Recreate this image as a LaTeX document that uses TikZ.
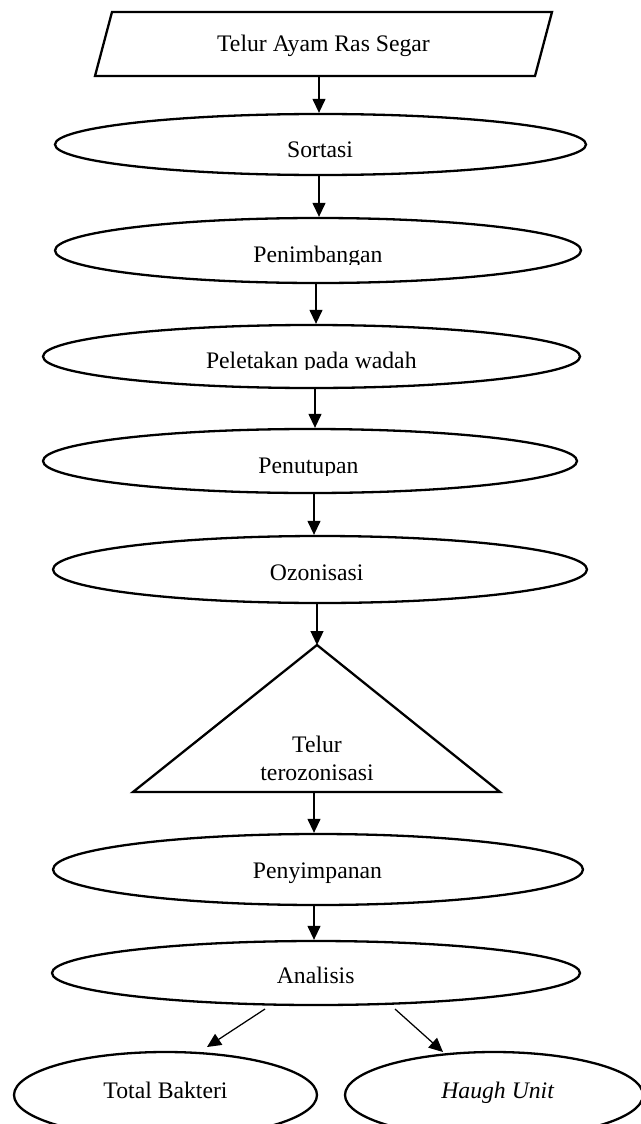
\documentclass[tikz,border=0pt]{standalone}
\usepackage{fontspec}
\setmainfont{Liberation Serif}
\usetikzlibrary{arrows.meta,shapes.geometric,calc}
\begin{document}
\begin{tikzpicture}[x=1pt,y=-1pt,
  shp/.style={draw=black, line width=2.3pt, line join=miter},
  ell/.style={draw=black, line width=2.3pt, ellipse, inner sep=0pt},
  lbl/.style={anchor=base, inner sep=0pt, font=\fontsize{23.7}{28}\selectfont},
  arr/.style={line width=1.25pt, -{Triangle[length=14pt,width=13pt]}},
]
\useasboundingbox (0,0) rectangle (640,1124);

% input parallelogram
\draw[shp] (112,12) -- (552,12) -- (535,76) -- (95,76) -- cycle;
\node[lbl] (inpT) at (323.5,52) {Telur Ayam Ras Segar};
\coordinate (inB) at (319,76);

% process ellipses
\node[ell, minimum width=531pt, minimum height=61pt] (sort) at (320.5,144.5) {};
\node[lbl] (sortT) at (320,157) {Sortasi};

\node[ell, minimum width=526pt, minimum height=65pt] (pen) at (318,250.5) {};
\begin{scope}
  \clip (0,230) rectangle (640,264);
  \node[lbl] (penT) at (318,262) {Penimbangan};
\end{scope}

\node[ell, minimum width=537pt, minimum height=63pt] (pel) at (311.5,356.5) {};
\begin{scope}
  \clip (0,335) rectangle (640,369.5);
  \node[lbl] (pelT) at (311.3,368) {Peletakan pada wadah};
\end{scope}

\node[ell, minimum width=534pt, minimum height=64pt] (put) at (310,461) {};
\begin{scope}
  \clip (0,440) rectangle (640,475);
  \node[lbl] (putT) at (308.5,473) {Penutupan};
\end{scope}

\node[ell, minimum width=534pt, minimum height=67pt] (ozo) at (320,569.5) {};
\node[lbl] (ozoT) at (316.7,580) {Ozonisasi};

% triangle
\coordinate (triA) at (317,645);
\draw[shp] (triA) -- (500,792) -- (133,792) -- cycle;
\node[lbl] (triT1) at (317,752) {Telur};
\node[lbl] (triT2) at (317,780) {terozonisasi};
\coordinate (triB) at (314,792);

\node[ell, minimum width=530pt, minimum height=71pt] (peny) at (318,869.5) {};
\node[lbl] (penyT) at (317.5,878) {Penyimpanan};

\node[ell, minimum width=528pt, minimum height=64pt] (ana) at (316,973) {};
\node[lbl] (anaT) at (315.7,983) {Analisis};

\node[ell, minimum width=303pt, minimum height=86pt] (tb) at (165.5,1095) {};
\node[lbl] (tbT) at (165.5,1098) {Total Bakteri};

\node[ell, minimum width=298pt, minimum height=86pt] (hu) at (494,1095) {};
\node[lbl] (huT) at (497.6,1098) {\itshape Haugh Unit};

% connectors
\draw[arr] (inB) -- (inB |- sort.north);
\draw[arr] ([xshift=-1.5pt]sort.south) -- ([xshift=-1.5pt]sort.south |- pen.north);
\draw[arr] ([xshift=-2pt]pen.south) -- ([xshift=-2pt]pen.south |- pel.north);
\draw[arr] ([xshift=3.5pt]pel.south) -- ([xshift=3.5pt]pel.south |- put.north);
\draw[arr] ([xshift=4pt]put.south) -- ([xshift=4pt]put.south |- ozo.north);
\draw[arr] (ozo.south -| triA) -- (triA);
\draw[arr] (triB) -- (triB |- peny.north);
\draw[arr] ([xshift=-4pt]peny.south) -- ([xshift=-4pt]peny.south |- ana.north);

\coordinate (a1s) at (265,1009);
\coordinate (a1e) at (207,1047);
\coordinate (a2s) at (395,1009);
\coordinate (a2e) at (443,1052);
\draw[arr] (a1s) -- (a1e);
\draw[arr] (a2s) -- (a2e);
\end{tikzpicture}
\end{document}
